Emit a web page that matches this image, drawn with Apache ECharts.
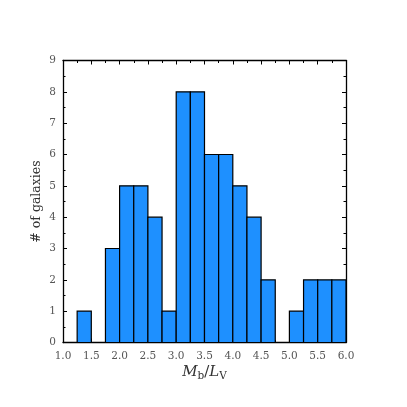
<!DOCTYPE html>
<html><head><meta charset="utf-8">
<script src="https://cdn.jsdelivr.net/npm/echarts@6/dist/echarts.min.js"></script>
<style>html,body{margin:0;padding:0;background:#fff}#c{width:407px;height:407px}</style>
</head><body><div id="c"></div>
<script>
const binStarts = [1.0,1.25,1.5,1.75,2.0,2.25,2.5,2.75,3.0,3.25,3.5,3.75,4.0,4.25,4.5,4.75,5.0,5.25,5.5,5.75];
const binWidth = 0.25;
const counts = [0,1,0,3,5,5,4,1,8,8,6,6,5,4,2,0,1,2,2,2];
const xTicks = [1.0,1.5,2.0,2.5,3.0,3.5,4.0,4.5,5.0,5.5,6.0];

const data = binStarts.map((s,i)=>[s, s+binWidth, counts[i]]);
const font = 'DejaVu Serif';
const chart = echarts.init(document.getElementById('c'));
const axisCommon = {
  axisLine:{show:true,onZero:false,lineStyle:{color:'#000',width:1.3}},
  axisTick:{show:true,inside:true,length:4,lineStyle:{color:'#000',width:1}},
  minorTick:{show:true,splitNumber:2,length:2.5,lineStyle:{color:'#000',width:1}},
  splitLine:{show:false}
};
chart.setOption({
  animation:false,
  grid:{left:63,top:60.5,width:283,height:282,containLabel:false},
  xAxis:[
    Object.assign({type:'value',min:1,max:6,interval:0.5,position:'bottom',
      axisLabel:{color:'#555',fontFamily:font,fontSize:10.5,margin:8,formatter:v=>v.toFixed(1)},
      name:'{i|M}{s|b}{n|/}{i|L}{s|V}',nameLocation:'middle',nameGap:21,nameMoveOverlap:false,
      nameTextStyle:{rich:{
        i:{fontFamily:font,fontStyle:'italic',fontSize:15,color:'#333'},
        n:{fontFamily:font,fontSize:15,color:'#333'},
        s:{fontFamily:font,fontSize:10.5,color:'#333',padding:[7,0,0,0]}
      }}},axisCommon),
    Object.assign({type:'value',min:1,max:6,interval:0.5,position:'top',axisLabel:{show:false}},axisCommon)
  ],
  yAxis:[
    Object.assign({type:'value',min:0,max:9,interval:1,position:'left',
      axisLabel:{color:'#555',fontFamily:font,fontSize:10.5,margin:7},
      name:'# of galaxies',nameLocation:'middle',nameGap:20,nameMoveOverlap:false,
      nameTextStyle:{fontFamily:font,fontSize:12.5,color:'#333'}},axisCommon),
    Object.assign({type:'value',min:0,max:9,interval:1,position:'right',axisLabel:{show:false}},axisCommon)
  ],
  series:[{
    type:'custom',
    xAxisIndex:0,yAxisIndex:0,
    data:data,
    encode:{x:[0,1],y:2},
    renderItem:function(params,api){
      const p0 = api.coord([api.value(0), api.value(2)]);
      const p1 = api.coord([api.value(1), 0]);
      return {type:'rect',shape:{x:p0[0],y:p0[1],width:p1[0]-p0[0],height:p1[1]-p0[1]},
        style:{fill:'#1e90ff',stroke:'#000',lineWidth:1.2}};
    }
  }]
});
</script></body></html>
